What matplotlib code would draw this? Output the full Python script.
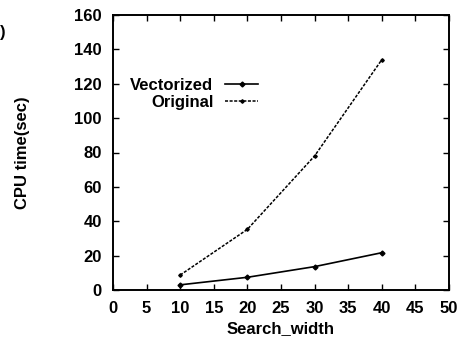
import numpy as np
import matplotlib
matplotlib.use("Agg")
import matplotlib.pyplot as plt

# ── Data ──────────────────────────────────────────────────────────────────────

search_width = [10, 20, 30, 40]
t_vectorized = [3.0, 7.4, 13.6, 21.7]
t_original = [8.7, 35.3, 78.0, 134.0]

x_ticks = list(range(0, 51, 5))
y_ticks = list(range(0, 161, 20))

# ── Plot ──────────────────────────────────────────────────────────────────────

plt.rcParams['font.family'] = ['Liberation Sans', 'DejaVu Sans']
plt.rcParams['font.weight'] = 'bold'

fig = plt.figure(figsize=(4.61, 3.39), dpi=100)
ax = fig.add_axes([113 / 461, 1 - 290 / 339, 336 / 461, 275 / 339])

ax.plot(search_width, t_vectorized, color='black', linewidth=1.2,
        marker='D', markersize=2.5, label="Vectorized")
ax.plot(search_width, t_original, color='black', linewidth=1.1,
        linestyle=(0, (2, 1)), marker='D', markersize=1.8, label="Original")

ax.set_xlim(0, 50)
ax.set_ylim(0, 160)
ax.set_xticks(x_ticks)
ax.set_yticks(y_ticks)
ax.tick_params(direction='in', top=True, right=True, length=4, width=1,
               labelsize=12, pad=8)
for lbl in ax.get_xticklabels() + ax.get_yticklabels():
    lbl.set_fontweight('bold')
for sp in ax.spines.values():
    sp.set_linewidth(1.4)

ax.set_xlabel("Search_width", fontsize=12, fontweight='bold', labelpad=3.5)
ax.set_ylabel("CPU time(sec)", fontsize=12, fontweight='bold', labelpad=32)

leg = ax.legend(loc='upper right', bbox_to_anchor=(0.433, 0.772),
                frameon=False, markerfirst=False, fontsize=12,
                handlelength=2.0, handletextpad=0.7, labelspacing=0.15,
                borderpad=0, borderaxespad=0)
for t in leg.get_texts():
    t.set_fontweight('bold')

# scan fragment at the left edge
fig.text(0.0, 1 - 33 / 339, ")", fontsize=12, ha='left', va='center')

fig.savefig("out.png", dpi=100)
